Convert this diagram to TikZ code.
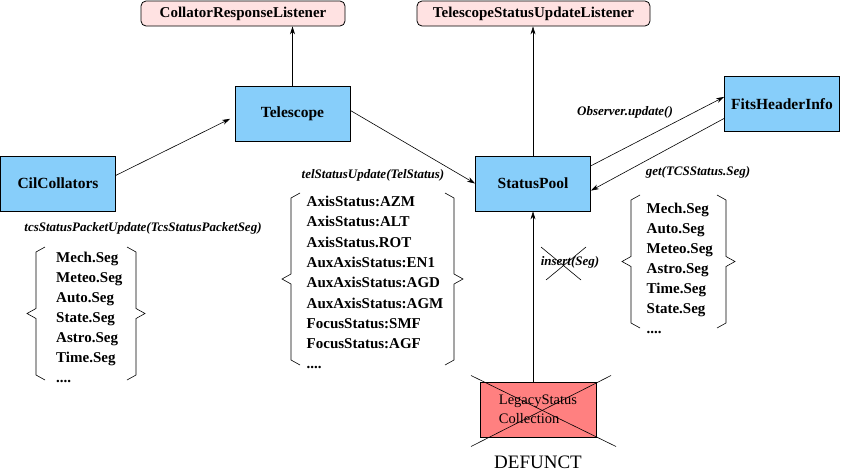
\documentclass[tikz,border=0pt]{standalone}
\usepackage{fontspec}
\setmainfont{Liberation Serif}
\usetikzlibrary{arrows.meta,positioning,calc}

\definecolor{classblue}{RGB}{135,206,250}
\definecolor{listenerpink}{RGB}{255,226,226}
\definecolor{defunctred}{RGB}{255,128,128}

\newcommand{\etcdots}{....} % last list entry
% pair of hand drawn braces round a list: left x, right x, top y, bottom y
\newcommand{\segbraces}[4]{%
  \pgfmathsetmacro{\ymid}{(#3+#4)/2}
  \draw[brace] ({#1+9},#3) -- (#1,{#3+5}) -- (#1,{\ymid-5}) -- ({#1-9},\ymid) -- (#1,{\ymid+5}) -- (#1,{#4-5}) -- ({#1+9},#4);
  \draw[brace] ({#2-9},#3) -- (#2,{#3+5}) -- (#2,{\ymid-5}) -- ({#2+9},\ymid) -- (#2,{\ymid+5}) -- (#2,{#4-5}) -- ({#2-9},#4);
}

\begin{document}
\begin{tikzpicture}[
    x=1pt, y=-1pt, % pixel like units, y grows downwards
    class/.style={draw, fill=classblue, line width=0.8pt, minimum width=115pt, minimum height=55pt, inner sep=0pt, font=\bfseries\fontsize{15.5}{18}\selectfont}, % blue class box
    listener/.style={draw, fill=listenerpink, line width=0.8pt, rounded corners=5pt, minimum height=25pt, inner sep=0pt, font=\bfseries\fontsize{15}{18}\selectfont}, % interface box
    msg/.style={font=\bfseries\itshape\fontsize{13}{15}\selectfont, inner sep=1pt}, % method call label
    seg/.style={anchor=base west, inner sep=0pt, font=\bfseries\fontsize{15}{18}\selectfont}, % list entry
    call/.style={-{Stealth[length=8pt,width=5pt]}, line width=0.6pt}, % arrow
    brace/.style={line width=0.6pt},
    strike/.style={line width=0.6pt}
]
    \useasboundingbox (0,0) rectangle (842,472);

    % listeners on top
    \node[listener, minimum width=204pt] (crl) at (243,13.5) {CollatorResponseListener};
    \node[listener, minimum width=233pt] (tsul) at (533.5,13.5) {TelescopeStatusUpdateListener};

    % classes
    \node[class] (tel) at (292.5,113.5) {Telescope};
    \node[class] (cil) at (58,183.5) {CilCollators};
    \node[class] (sp) at (533,183.5) {StatusPool};
    \node[class] (fhi) at (782,104) {FitsHeaderInfo};
    \node[class, fill=defunctred, align=left, font=\fontsize{14.5}{19}\selectfont, minimum width=116pt] (lsc) at (538,409.5) {LegacyStatus\\Collection};
    \node[font=\fontsize{19}{22}\selectfont, inner sep=0pt, below=18pt of lsc] (defunct) {DEFUNCT};

    % crossed out legacy box
    \draw[strike] ($(lsc.center)+(-67,-34)$) -- ($(lsc.center)+(78,37)$);
    \draw[strike] ($(lsc.center)+(73,-34)$) -- ($(lsc.center)+(-67,37)$);

    % arrows
    \draw[call] (tel.north) -- (tel.north |- crl.south);
    \draw[call] (sp.north) -- (sp.north |- tsul.south);
    \draw[call, shorten >=5pt] (cil.8) -- (tel.183);
    \draw[call] (tel.3) -- (sp.west);
    \draw[call] (sp.17) -- (fhi.173);
    \draw[call] (fhi.194) -- (sp.353);
    \draw[call] (sp.south |- lsc.north) -- (sp.south);

    % method labels
    \node[msg] (pktupd) at (143,228) {tcsStatusPacketUpdate(TcsStatusPacketSeg)};
    \node[msg] (telupd) at (373,175) {telStatusUpdate(TelStatus)};
    \node[msg] (obsupd) at (625,112) {Observer.update()};
    \node[msg] (getseg) at (698,172) {get(TCSStatus.Seg)};
    \node[msg] (ins) at (570,262) {insert(Seg)};
    \draw[strike] ($(ins.center)+(-29,-15)$) -- ($(ins.center)+(11,18)$);
    \draw[strike] ($(ins.center)+(16,-15)$) -- ($(ins.center)+(-24,18)$);

    % segment lists
    \foreach \s [count=\i] in {Mech.Seg,Meteo.Seg,Auto.Seg,State.Seg,Astro.Seg,Time.Seg,\etcdots}
        \node[seg] (pkt\i) at (56,{262+20*(\i-1)}) {\s};
    \foreach \s [count=\i] in {AxisStatus:AZM,AxisStatus:ALT,AxisStatus.ROT,AuxAxisStatus:EN1,AuxAxisStatus:AGD,AuxAxisStatus:AGM,FocusStatus:SMF,FocusStatus:AGF,\etcdots}
        \node[seg] (ax\i) at (306.5,{206.5+20.3*(\i-1)}) {\s};
    \foreach \s [count=\i] in {Mech.Seg,Auto.Seg,Meteo.Seg,Astro.Seg,Time.Seg,State.Seg,\etcdots}
        \node[seg] (get\i) at (646.5,{213+20*(\i-1)}) {\s};

    \segbraces{36}{136}{247}{380}
    \segbraces{291}{454}{193}{365}
    \segbraces{631}{726}{195}{328}
\end{tikzpicture}
\end{document}
